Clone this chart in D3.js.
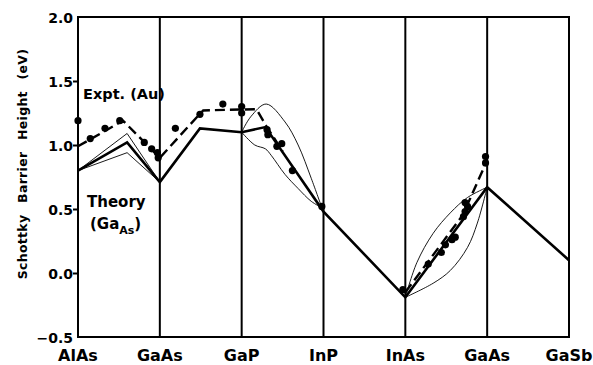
<!DOCTYPE html>
<html>
<head>
<meta charset="utf-8">
<script src="https://cdn.jsdelivr.net/npm/d3@7"></script>
<style>
  body { margin: 0; background: #fff; }
  text { font-family: "DejaVu Sans", sans-serif; font-weight: 700; fill: #000; }
</style>
</head>
<body>
<div class="container"></div>
<script>
// categories along the x axis (positions 0..6)
var categories = ["AlAs", "GaAs", "GaP", "InP", "InAs", "GaAs", "GaSb"];
var yTicks = [-0.5, 0.0, 0.5, 1.0, 1.5, 2.0];

// theory (Ga_As) main line, [position, eV]
var theoryMain = [[0, 0.80], [0.6, 1.02], [1, 0.71], [1.49, 1.13], [2, 1.10], [2.29, 1.14],
  [3, 0.48], [4, -0.19], [5, 0.67], [6, 0.10]];
// thin theory variants
var theoryUpperA = [[0, 0.80], [0.6, 1.09], [1, 0.71]];
var theoryLowerA = [[0, 0.80], [0.6, 0.94], [1, 0.71]];
var theoryUpperB = [[2, 1.10], [2.11, 1.22], [2.3, 1.32], [2.53, 1.18], [2.69, 1.0], [2.85, 0.74], [2.98, 0.51]];
var theoryLowerB = [[2, 1.10], [2.16, 1.00], [2.29, 0.97], [2.36, 0.92], [2.53, 0.77], [2.69, 0.66], [2.85, 0.56], [2.98, 0.51]];
var theoryUpperC = [[4, -0.19], [4.14, 0.08], [4.34, 0.31], [4.55, 0.47], [4.76, 0.59], [5, 0.67]];
var theoryLowerC = [[4, -0.19], [4.34, -0.08], [4.55, 0.02], [4.76, 0.20], [4.88, 0.39], [5, 0.67]];

// experiment (Au) dashed guide lines
var exptAB = [[0, 0.99], [0.55, 1.19], [1, 0.90], [1.47, 1.23], [1.53, 1.27], [2.18, 1.28], [2.3, 1.15], [2.5, 0.95]];
var exptCD = [[4, -0.15], [4.7, 0.45], [5, 0.88]];

// measured points
var exptPoints = [
  [0, 1.19], [0.15, 1.05], [0.33, 1.13], [0.51, 1.19], [0.81, 1.02], [0.9, 0.97], [0.97, 0.94], [0.98, 0.90],
  [1.19, 1.13], [1.49, 1.24], [1.77, 1.32], [2, 1.30], [2, 1.25],
  [2.31, 1.12], [2.32, 1.08], [2.43, 0.99], [2.49, 1.01], [2.62, 0.80], [2.98, 0.52],
  [3.97, -0.13], [4.28, 0.07], [4.44, 0.16], [4.49, 0.22], [4.57, 0.26], [4.61, 0.28],
  [4.71, 0.44], [4.73, 0.48], [4.76, 0.52], [4.73, 0.55], [4.98, 0.86], [4.98, 0.91]
];

var width = 593, height = 365;
var x = d3.scaleLinear().domain([0, 6]).range([78, 569]);
var y = d3.scaleLinear().domain([-0.5, 2.0]).range([337, 17]);

var svg = d3.select(".container").append("svg")
  .attr("width", width)
  .attr("height", height);

// frame and category verticals
svg.append("rect")
  .attr("x", x(0)).attr("y", y(2))
  .attr("width", x(6) - x(0)).attr("height", y(-0.5) - y(2))
  .attr("fill", "none").attr("stroke", "#000").attr("stroke-width", 2);

svg.selectAll(".vline")
  .data(d3.range(1, 6)).enter()
  .append("line")
  .attr("class", "vline")
  .attr("x1", function(d) { return x(d); })
  .attr("x2", function(d) { return x(d); })
  .attr("y1", y(2)).attr("y2", y(-0.5))
  .attr("stroke", "#000").attr("stroke-width", 2);

// y axis ticks and labels
var yAxis = d3.axisLeft(y).tickValues(yTicks).tickSize(5).tickFormat(d3.format(".1f"));
var ya = svg.append("g").attr("transform", "translate(" + x(0) + ",0)").call(yAxis);
ya.select(".domain").remove();
ya.selectAll(".tick line").attr("stroke-width", 2);
ya.selectAll(".tick text")
  .attr("x", -5)
  .attr("dy", "0.36em")
  .style("font-size", "14px")
  .text(function(d) { return d3.format(".1f")(d).replace("-", "\u2212"); });
ya.selectAll(".tick").filter(function(d) { return d === 2.0 || d === -0.5; })
  .select("line").remove();

// x labels
svg.selectAll(".xlabel")
  .data(categories).enter()
  .append("text")
  .attr("class", "xlabel")
  .attr("x", function(d, i) { return x(i); })
  .attr("y", 361)
  .attr("text-anchor", "middle")
  .style("font-size", "16px")
  .text(function(d) { return d; });

// y title
svg.append("text")
  .attr("transform", "translate(27,164) rotate(-90)")
  .attr("text-anchor", "middle")
  .style("font-size", "12.5px")
  .style("letter-spacing", "0.3px")
  .style("word-spacing", "7px")
  .text("Schottky Barrier Height (eV)");

var line = d3.line()
  .x(function(d) { return x(d[0]); })
  .y(function(d) { return y(d[1]); });
var curve = d3.line()
  .x(function(d) { return x(d[0]); })
  .y(function(d) { return y(d[1]); })
  .curve(d3.curveCatmullRom.alpha(0.5));

// thin theory curves
[theoryUpperA, theoryLowerA].forEach(function(s) {
  svg.append("path").attr("d", line(s))
    .attr("fill", "none").attr("stroke", "#000").attr("stroke-width", 0.9);
});
[theoryUpperB, theoryLowerB, theoryUpperC, theoryLowerC].forEach(function(s) {
  svg.append("path").attr("d", curve(s))
    .attr("fill", "none").attr("stroke", "#000").attr("stroke-width", 0.9);
});

// main theory line
svg.append("path").attr("d", line(theoryMain))
  .attr("fill", "none").attr("stroke", "#000").attr("stroke-width", 2.6)
  .attr("stroke-linejoin", "miter");

// dashed expt lines
[exptAB, exptCD].forEach(function(s) {
  svg.append("path").attr("d", line(s))
    .attr("fill", "none").attr("stroke", "#000").attr("stroke-width", 2.4)
    .attr("stroke-dasharray", "10,5");
});

// dots
svg.selectAll(".dot")
  .data(exptPoints).enter()
  .append("circle")
  .attr("class", "dot")
  .attr("cx", function(d) { return x(d[0]); })
  .attr("cy", function(d) { return y(d[1]); })
  .attr("r", 3.6)
  .attr("fill", "#000");

// annotations
svg.append("text").attr("x", 83).attr("y", 99)
  .style("font-size", "14.5px")
  .text("Expt. (Au)");
svg.append("text").attr("x", 87).attr("y", 207)
  .style("font-size", "15px")
  .text("Theory");
var t = svg.append("text").attr("x", 90).attr("y", 229).style("font-size", "15px");
t.append("tspan").text("(Ga");
t.append("tspan").attr("dy", 5).style("font-size", "11px").text("As");
t.append("tspan").attr("dy", -5).text(")");
</script>
</body>
</html>
